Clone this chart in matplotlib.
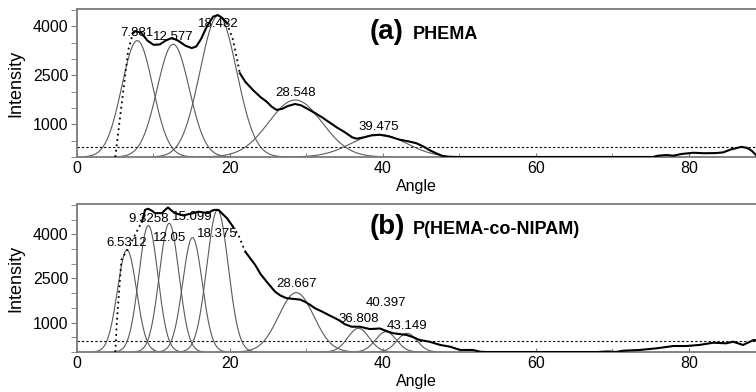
import numpy as np
import matplotlib.pyplot as plt
from matplotlib.ticker import MultipleLocator, FixedLocator

plt.rcParams['font.family'] = ['Liberation Sans', 'DejaVu Sans']

a_angle = [5.0, 5.9, 6.7, 7.3, 7.6, 8.4, 9.2, 10.0, 10.8, 11.6, 12.4, 13.2, 14.2, 15.0,
           15.6, 16.2, 17.0, 17.8, 18.4, 19.0, 19.6, 20.4, 21.3, 22.0, 23.0, 24.0, 24.8,
           25.5, 26.1, 26.8, 27.6, 28.5, 29.3, 30.0, 31.0, 32.0, 33.0, 34.0, 35.0, 36.0,
           36.6, 37.5, 38.5, 39.6, 40.8, 42.2, 43.5, 44.4, 45.3, 46.1, 47.0, 47.8, 48.5,
           75.3, 76.0, 77.1, 78.0, 79.0, 80.6, 82.0, 83.5, 84.5, 85.5, 86.9, 87.6, 88.2, 88.8]
a_int = [0, 1743, 3270, 3780, 3850, 3800, 3560, 3430, 3440, 3560, 3640, 3560, 3400, 3330,
         3380, 3600, 4000, 4290, 4340, 4250, 4100, 3580, 2560, 2300, 2050, 1830, 1690,
         1530, 1440, 1470, 1560, 1620, 1580, 1490, 1360, 1220, 1060, 900, 760, 600,
         560, 600, 660, 680, 630, 530, 470, 420, 320, 210, 110, 30, 0,
         0, 40, 60, 40, 90, 130, 115, 120, 140, 230, 310, 280, 200, 60]
a_centers = [7.881, 12.577, 18.482, 28.548, 39.475]
a_heights = [3557, 3446, 4330, 1743, 690]
a_sigmas = [2.03, 2.1, 2.4, 3.5, 3.6]
a_labels = ['7.881', '12.577', '18.482', '28.548', '39.475']
a_label_y = [3783, 3679, 4067, 1966, 927]
a_threshold = 315

# ---- (b) P(HEMA-co-NIPAM)
b_angle = [5.0, 5.2, 5.8, 6.7, 7.8, 8.5, 8.9, 9.3, 9.8, 10.2, 11.1, 11.6, 11.9, 12.3, 12.8,
           13.9, 14.5, 15.2, 15.9, 16.6, 17.2, 17.6, 18.0, 18.5, 19.0, 19.6, 20.4, 21.1,
           22.0, 23.3, 24.0, 24.8, 25.9, 26.6, 27.4, 28.5, 29.2, 29.8, 30.5, 31.1, 32.0,
           32.9, 34.2, 35.0, 35.9, 37.0, 38.3, 39.6, 40.4, 41.3, 43.1, 44.0, 44.8, 46.1,
           47.5, 48.8, 50.1, 51.8, 52.7, 53.5, 68.0, 69.5, 70.5, 71.4, 73.6, 75.8, 78.0,
           79.7, 81.4, 83.2, 84.9, 85.8, 87.1, 88.5, 88.8]
b_int = [0, 1000, 3130, 3530, 4090, 4430, 4830, 4870, 4800, 4720, 4720, 4850, 4910, 4820, 4720,
         4640, 4680, 4720, 4770, 4740, 4720, 4800, 4830, 4830, 4700, 4550, 4260, 3980,
         3410, 2960, 2650, 2390, 2050, 1920, 1830, 1800, 1780, 1710, 1600, 1490, 1380,
         1260, 1090, 950, 860, 860, 780, 800, 720, 640, 580, 500, 410, 350,
         240, 180, 70, 70, 10, 0, 0, 20, 0, 44, 70, 126, 204,
         204, 240, 316, 296, 350, 240, 410, 400]
b_centers = [6.5312, 9.3258, 12.05, 15.099, 18.375, 28.667, 36.808, 40.397, 43.149]
b_heights = [3470, 4296, 4377, 3888, 4830, 2017, 806, 690, 636]
b_sigmas = [1.25, 1.25, 1.28, 1.28, 1.4, 2.3, 1.4, 1.35, 1.3]
b_labels = ['6.5312', '9.3258', '12.05', '15.099', '18.375', '28.667', '36.808', '40.397', '43.149']
b_label_y = [3718, 4524, 3867, 4602, 4014, 2303, 1112, 1677, 884]
b_threshold = 370

SPINE = '#7a7a7a'


def draw_panel(ax, ang, inten, dotted, centers, heights, sigmas, labels, label_y,
               thr, ymax, tag, name):
    ang = np.array(ang)
    inten = np.array(inten)
    # fitted gaussian components
    for c, h, s in zip(centers, heights, sigmas):
        x = np.linspace(c - 3.6 * s, c + 3.6 * s, 200)
        ax.plot(x, h * np.exp(-(x - c) ** 2 / (2 * s * s)), color='#5a5a5a', lw=0.8, zorder=2)
    # measured curve, steep parts drawn dotted
    edges = sorted(set([ang[0], ang[-1]] + [v for r in dotted for v in r]))
    for lo, hi in zip(edges[:-1], edges[1:]):
        m = (ang >= lo) & (ang <= hi)
        is_dot = any(lo >= r[0] and hi <= r[1] for r in dotted)
        ax.plot(ang[m], inten[m], color='black', lw=1.3 if is_dot else 1.5,
                ls=(0, (1, 2)) if is_dot else '-', zorder=3)
    ax.axhline(thr, color='black', lw=0.8, ls=(0, (2, 2)), zorder=1)
    for c, t, y in zip(centers, labels, label_y):
        ax.text(c, y, t, ha='center', va='center', fontsize=9.5, zorder=4)
    ax.text(0.4315, 0.80, tag, transform=ax.transAxes, fontsize=20, fontweight='bold',
            ha='left', va='baseline')
    ax.text(0.494, 0.80, name, transform=ax.transAxes, fontsize=13, fontweight='bold',
            ha='left', va='baseline')

    ax.set_xlim(0, 88.8)
    ax.set_ylim(0, ymax)
    ax.xaxis.set_major_locator(MultipleLocator(20))
    ax.xaxis.set_minor_locator(MultipleLocator(10))
    ax.yaxis.set_major_locator(FixedLocator([1000, 2500, 4000]))
    ax.yaxis.set_minor_locator(MultipleLocator(500))
    ax.tick_params(axis='y', which='both', direction='out', length=4, color=SPINE,
                   labelsize=11.5, pad=2)
    ax.tick_params(axis='x', which='both', direction='in', length=3, color=SPINE,
                   labelsize=11.5, pad=3)
    for sp in ax.spines.values():
        sp.set_color(SPINE)
        sp.set_linewidth(1.3)
    ax.spines['right'].set_visible(False)
    ax.set_xlabel('Angle', fontsize=11.5, labelpad=2)
    ax.set_ylabel('Intensity', fontsize=13, labelpad=6)


fig = plt.figure(figsize=(7.56, 3.92), dpi=100)
ax1 = fig.add_axes([0.1019, 0.5995, 0.8981, 0.3763])
ax2 = fig.add_axes([0.1019, 0.102, 0.8981, 0.3768])

draw_panel(ax1, a_angle, a_int, [(5.0, 7.3), (19.6, 21.3)], a_centers, a_heights, a_sigmas,
           a_labels, a_label_y, a_threshold, 4510, '(a)', 'PHEMA')
draw_panel(ax2, b_angle, b_int, [(5.0, 8.5), (20.4, 22.0)], b_centers, b_heights, b_sigmas,
           b_labels, b_label_y, b_threshold, 5020, '(b)', 'P(HEMA-co-NIPAM)')

fig.savefig('out.png', dpi=100)
